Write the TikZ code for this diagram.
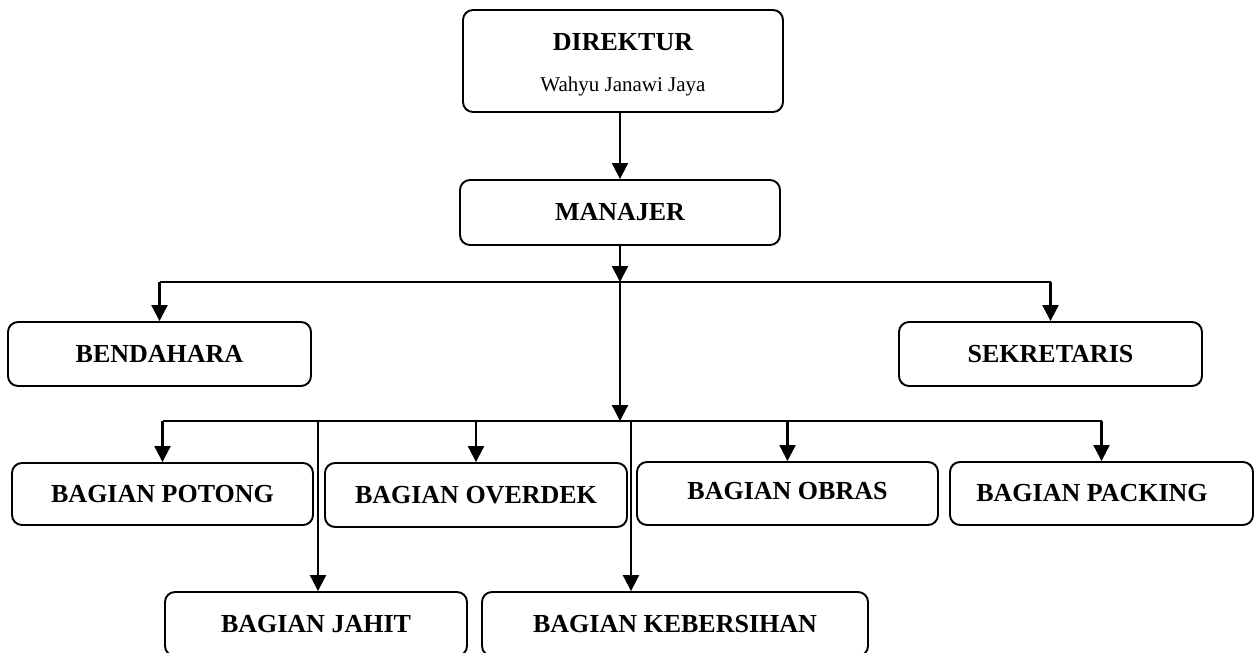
\documentclass[tikz,border=0pt]{standalone}
\usepackage{fontspec}
\setmainfont{Liberation Serif}
\usetikzlibrary{arrows.meta}
\begin{document}
\begin{tikzpicture}[x=1pt,y=-1pt,
  box/.style={draw, line width=1.9pt, rounded corners=10pt, inner sep=0pt,
    font=\fontsize{26}{30}\selectfont\bfseries, align=center},
  arr/.style={line width=2.1pt, -{Triangle[width=16pt,length=16pt]}},
  bus/.style={line width=1.6pt}]
\useasboundingbox (0,0) rectangle (1259,653);
\clip (0,0) rectangle (1259,653);
% boxes
\node[box, minimum width=320pt, minimum height=102pt] (dir) at (623,61)
  {\rule{0pt}{24pt}DIREKTUR\\[11pt]{\fontsize{21}{30}\selectfont\mdseries Wahyu Janawi Jaya}};
\node[box, minimum width=320pt, minimum height=65pt] (man) at (620,212.5) {MANAJER};
\node[box, minimum width=303pt, minimum height=64pt] (bend) at (159.5,354) {BENDAHARA};
\node[box, minimum width=303pt, minimum height=64pt] (sek) at (1050.5,354) {SEKRETARIS};
\node[box, minimum width=301pt, minimum height=62pt] (pot) at (162.5,494) {BAGIAN POTONG};
\node[box, minimum width=302pt, minimum height=64pt] (ovd) at (476,495) {BAGIAN OVERDEK};
\node[box, minimum width=301pt, minimum height=63pt] (obr) at (787.5,493.5) {BAGIAN OBRAS\rule[-6pt]{0pt}{1pt}};
\node[box, minimum width=303pt, minimum height=63pt] (pak) at (1101.5,493.5) {BAGIAN PACKING\kern19pt};
\node[box, minimum width=302pt, minimum height=64pt] (jah) at (316,624) {BAGIAN JAHIT};
\node[box, minimum width=386pt, minimum height=64pt] (keb) at (675,624) {BAGIAN KEBERSIHAN};
% junctions
\coordinate (j1) at (620,282);
\coordinate (j2) at (620,421);
\coordinate (j3) at (318,421);
\coordinate (j4) at (631,421);
% connectors
\draw[arr] (dir.south -| man.south) -- (man.north);
\draw[arr] (man.south) -- (j1);
\draw[bus] (bend.north |- j1) -- (sek.north |- j1);
\draw[arr] (bend.north |- j1) -- (bend.north);
\draw[arr] (sek.north |- j1) -- (sek.north);
\draw[arr] (j1) -- (j2);
\draw[bus] (pot.north |- j2) -- (pak.north |- j2);
\draw[arr] (pot.north |- j2) -- (pot.north);
\draw[arr] (ovd.north |- j2) -- (ovd.north);
\draw[arr] (obr.north |- j2) -- (obr.north);
\draw[arr] (pak.north |- j2) -- (pak.north);
\draw[arr] (j3) -- (j3 |- jah.north);
\draw[arr] (j4) -- (j4 |- keb.north);
\end{tikzpicture}
\end{document}
